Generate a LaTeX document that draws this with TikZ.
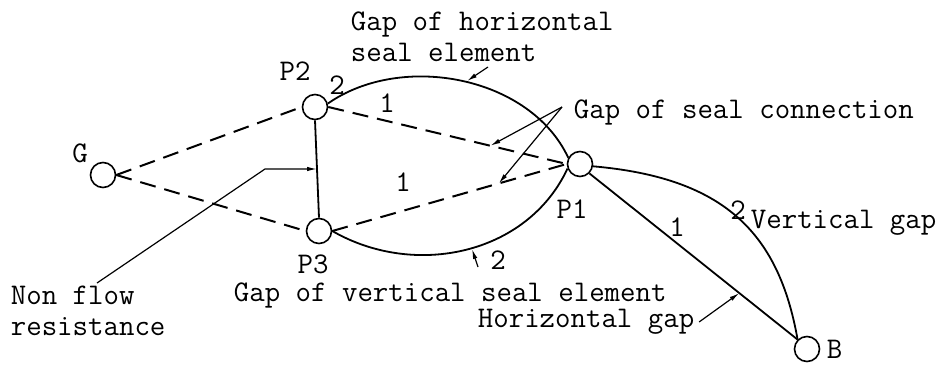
\documentclass[tikz,border=0pt]{standalone}
\usepackage{fontspec}
\usepackage{tikz}
\usetikzlibrary{arrows.meta,calc}
\tikzset{every picture/.style={line width=1.8pt}}

\begin{document}
\begin{tikzpicture}[x=1pt,y=1pt,>=Latex,
  every node/.style={font=\ttfamily\fontsize{30}{31}\selectfont,inner sep=0pt},
  port/.style={draw=black,circle,minimum size=25pt,line width=1.6pt},
  gap/.style={black,line width=1.8pt},
  leak/.style={black,line width=2pt,dash pattern=on 16pt off 9pt},
  lead/.style={black,line width=1.2pt},
  callout/.style={lead,-{Latex[length=10pt,width=4.5pt]}}]

  \useasboundingbox (0,0) rectangle (941,365);

  % Pressure points of the seal network.
  \node[port] (G) at (103,190) {};
  \node[port] (P2) at (315,258) {};
  \node[port] (P3) at (319,134) {};
  \node[port] (P1) at (580,201) {};
  \node[port] (B) at (807,16) {};
  \node (Glab) at (80,212) {G};
  \node (P2lab) at (295,294) {P2};
  \node (P3lab) at (313,101) {P3};
  \node (P1lab) at (572,156) {P1};
  \node[anchor=west] (Blab) at (826,16) {B};

  % Flow paths between the points.
  \draw[leak] (G.east) -- (P2.west);
  \draw[leak] (G.east) -- (P3.west);
  \draw[leak] (P2.east) -- (P1.west);
  \draw[leak] (P3.east) -- (P1.west);
  \draw[gap] (P2.south) -- (P3.north);
  \draw[gap] (P2.15) .. controls +(35:90) and +(115:90) .. (P1.152);
  \draw[gap] (P3.east) .. controls +(-30:95) and +(-115:95) .. (P1.200);
  \draw[gap] (P1.south east) -- (B.north west);
  \draw[gap] (P1.-10) .. controls +(-5:130) and +(100:110) .. (B.north west);

  % Path numbers.
  \node (n2a) at (337,280) {2};
  \node (n1a) at (387,262) {1};
  \node (n1b) at (403,183) {1};
  \node (n2b) at (498,105) {2};
  \node (n1c) at (677,138) {1};
  \node (n2c) at (738,155) {2};

  % Captions and their pointers.
  \node[anchor=west,align=left] (hseal) at (350,328)
    {Gap of horizontal\\seal element};
  \node[anchor=west] (conn) at (573,253) {Gap of seal connection};
  \node[anchor=west] (vseal) at (233,70) {Gap of vertical seal element};
  \node[anchor=west,align=left] (nonflow) at (10,54)
    {Non flow\\resistance};
  \node[anchor=west] (hgap) at (477,43) {Horizontal gap};
  \node[anchor=west] (vgap) at (750,142) {Vertical gap};

  \coordinate (hsroot) at (488,298);
  \coordinate (hstip) at (467,284);
  \draw[callout] (hsroot) -- (hstip);

  \coordinate (cnroot) at (562,258);
  \coordinate (cntop) at ($(P2.east)!0.68!(P1.west)$);
  \coordinate (cnbot) at ($(P3.east)!0.71!(P1.west)$);
  \draw[callout] (cnroot) -- (cntop);
  \draw[callout] (cnroot) -- (cnbot);

  \coordinate (vsroot) at (478,98);
  \coordinate (vstip) at (472,116);
  \draw[callout] (vsroot) -- (vstip);

  \coordinate (nftip) at ($(P2.south)!0.5!(P3.north)$);
  \coordinate (nfbend) at ($(nftip)+(-52,0)$);
  \coordinate (nfroot) at (97,82);
  \draw[callout] (nfroot) -- (nfbend) -- (nftip);

  \coordinate (hgtip) at ($(P1.south east)!0.72!(B.north west)$);
  \draw[callout] ($(hgap.east)+(4,0)$) -- (hgtip);
\end{tikzpicture}
\end{document}
